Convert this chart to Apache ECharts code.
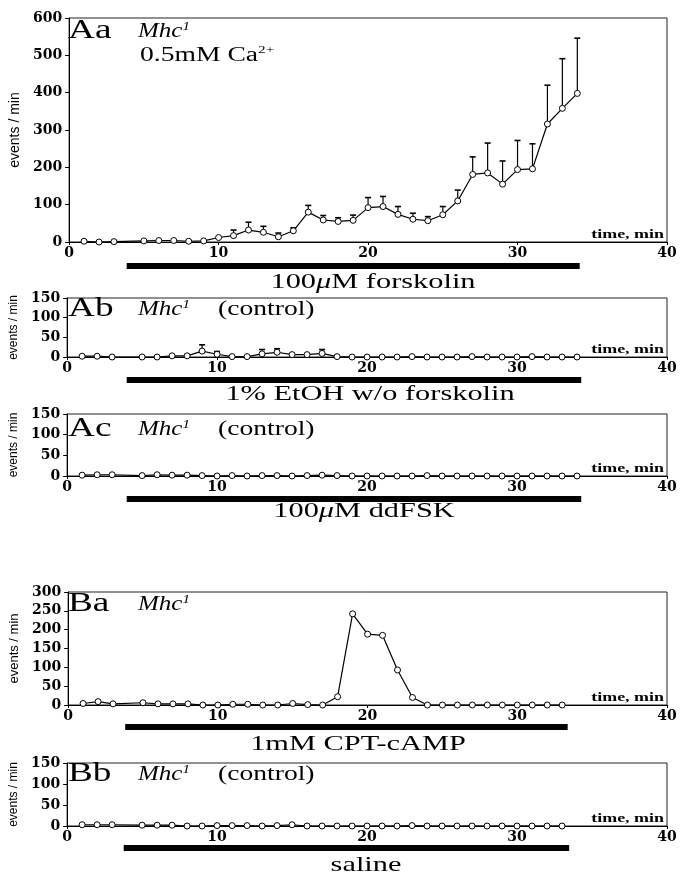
<!DOCTYPE html>
<html>
<head>
<meta charset="utf-8">
<title>events / min</title>
<script src="https://cdn.jsdelivr.net/npm/echarts@6/dist/echarts.min.js"></script>
<style>
html, body { margin: 0; padding: 0; background: #fff; }
#chart { width: 680px; height: 874px; }
</style>
</head>
<body>
<div id="chart"></div>
<script>
// sample minutes (minute 4 = solution change, not recorded)
const minutesA = [1, 2, 3, 5, 6, 7, 8, 9, 10, 11, 12, 13, 14, 15, 16, 17, 18, 19, 20, 21, 22, 23, 24, 25, 26, 27, 28, 29, 30, 31, 32, 33, 34]
const minutesB = [1, 2, 3, 5, 6, 7, 8, 9, 10, 11, 12, 13, 14, 15, 16, 17, 18, 19, 20, 21, 22, 23, 24, 25, 26, 27, 28, 29, 30, 31, 32, 33]

// Aa  100uM forskolin
const aaMean = [2, 0, 1, 3, 4, 4, 2, 3, 12, 17, 32, 26, 14, 30, 80, 59, 55, 58, 92, 95, 74, 61, 57, 73, 110, 181, 185, 155, 194, 196, 316, 358, 398]
const aaUpper = [null, null, null, null, null, null, null, null, null, 32, 53, 42, 24, 38, 98, 71, 65, 72, 119, 122, 95, 77, 68, 95, 139, 228, 265, 217, 272, 263, 420, 491, 546]
// Ab  1% EtOH
const abMean = [2, 2, 0, 0, 0, 3, 3, 15, 7, 1, 1, 8, 12, 6, 6, 9, 1, 0, 0, 0, 0, 1, 0, 0, 0, 1, 0, 0, 0, 1, 0, 0, 0]
const abUpper = [null, null, null, null, null, null, null, 31, 14, null, null, 19, 21, null, null, 19, null, null, null, null, null, null, null, null, null, null, null, null, null, null, null, null, null]
// Ac  ddFSK
const acMean = [2, 3, 3, 1, 3, 2, 2, 1, 0, 1, 0, 1, 1, 0, 1, 2, 1, 0, 0, 0, 0, 0, 1, 0, 0, 0, 0, 0, 0, 0, 0, 0, 0]
// Ba  CPT-cAMP
const baMean = [4, 9, 3, 6, 3, 3, 3, 0, 0, 2, 2, 0, 0, 4, 1, 0, 22, 242, 188, 185, 93, 20, 0, 0, 0, 0, 0, 0, 0, 0, 0, 0]
// Bb  saline
const bbMean = [3, 3, 3, 2, 2, 2, 0, 0, 1, 1, 1, 0, 1, 3, 0, 0, 0, 0, 0, 0, 0, 1, 0, 0, 0, 0, 0, 0, 0, 0, 0, 0]

// application periods (start, end in min)
const aaDrug = [4.1, 34.2]
const abDrug = [4.1, 34.3]
const acDrug = [4.1, 34.3]
const baDrug = [4.0, 33.4]
const bbDrug = [3.9, 33.5]

// tick labels
const xTicks = [0, 10, 20, 30, 40]
const aaYTicks = [0, 100, 200, 300, 400, 500, 600]
const smallYTicks = [0, 50, 100, 150]
const baYTicks = [0, 50, 100, 150, 200, 250, 300]

const STRETCH = 1.38 // the scan is wide, text gets stretched a bit
const serif = 'Liberation Serif'
const ink = '#000'

const panels = [
  { id: 'Aa', minutes: minutesA, mean: aaMean, upper: aaUpper, drug: aaDrug, yTicks: aaYTicks,
    top: 18, height: 224, barY: 266, nameSize: 14,
    sub: '{n|0.5mM Ca}{s|2+}', control: false, drugText: '{n|100}{g|μ}{n|M forskolin}',
    labelY: 31, drugX: 373, drugY: 282 },
  { id: 'Ab', minutes: minutesA, mean: abMean, upper: abUpper, drug: abDrug, yTicks: smallYTicks,
    top: 298, height: 59, barY: 380, nameSize: 12,
    control: true, drugText: '{n|1% EtOH w/o forskolin}', labelY: 309, drugX: 370, drugY: 394 },
  { id: 'Ac', minutes: minutesA, mean: acMean, drug: acDrug, yTicks: smallYTicks,
    top: 414, height: 62, barY: 499, nameSize: 12,
    control: true, drugText: '{n|100}{g|μ}{n|M ddFSK}', labelY: 429, drugX: 364, drugY: 511 },
  { id: 'Ba', minutes: minutesB, mean: baMean, drug: baDrug, yTicks: baYTicks,
    top: 592, height: 113, barY: 727, nameSize: 13,
    control: false, drugText: '{n|1mM CPT-cAMP}', labelY: 604, drugX: 358, drugY: 744 },
  { id: 'Bb', minutes: minutesB, mean: bbMean, drug: bbDrug, yTicks: smallYTicks,
    top: 763, height: 63, barY: 848, nameSize: 12,
    control: true, drugText: '{n|saline}', labelY: 774, drugX: 366, drugY: 865 }
]

const n = panels.length
const grid = []
const xAxis = []
const yAxis = []
const series = []
const graphic = []

panels.forEach((p, i) => {
  // plot box
  grid.push({ left: 65, width: 602, top: p.top, height: p.height, show: true, borderColor: '#222', borderWidth: 1 })
  xAxis.push({
    gridIndex: i, type: 'value', min: xTicks[0], max: xTicks[xTicks.length - 1], interval: xTicks[1] - xTicks[0],
    axisLine: { lineStyle: { color: ink, width: 1 } },
    axisTick: { show: true, length: 3, lineStyle: { color: ink } },
    axisLabel: { color: ink, fontFamily: 'DejaVu Serif', fontWeight: 'bold', fontSize: 14, margin: 4 },
    splitLine: { show: false }
  })
  yAxis.push({
    gridIndex: i, type: 'value', min: p.yTicks[0], max: p.yTicks[p.yTicks.length - 1], interval: p.yTicks[1] - p.yTicks[0],
    name: 'events / min', nameLocation: 'middle', nameGap: 42, nameRotate: 90,
    nameTextStyle: { color: ink, fontFamily: 'Liberation Sans', fontSize: p.nameSize },
    axisLine: { show: true, lineStyle: { color: ink, width: 1 } },
    axisTick: { show: true, length: 4, lineStyle: { color: ink } },
    axisLabel: { color: ink, fontFamily: 'DejaVu Serif', fontWeight: 'bold', fontSize: 14, margin: 7 },
    splitLine: { show: false }
  })

  // error bars (upper only) drawn under the points
  if (p.upper) {
    const errData = []
    p.minutes.forEach((m, k) => {
      if (p.upper[k] != null) errData.push([m, p.mean[k], p.upper[k]])
    })
    series.push({
      type: 'custom', xAxisIndex: i, yAxisIndex: i, z: 2, silent: true,
      encode: { x: 0, y: [1, 2] },
      data: errData,
      renderItem: (params, api) => {
        const lo = api.coord([api.value(0), api.value(1)])
        const hi = api.coord([api.value(0), api.value(2)])
        return {
          type: 'group',
          children: [
            { type: 'line', shape: { x1: lo[0], y1: lo[1] - 3, x2: hi[0], y2: hi[1] }, style: { stroke: ink, lineWidth: 1.2 } },
            { type: 'line', shape: { x1: hi[0] - 3, y1: hi[1], x2: hi[0] + 3, y2: hi[1] }, style: { stroke: ink, lineWidth: 1.6 } }
          ]
        }
      }
    })
  }

  series.push({
    type: 'line', xAxisIndex: i, yAxisIndex: i, z: 3, silent: true,
    data: p.minutes.map((m, k) => [m, p.mean[k]]),
    symbol: 'circle', symbolSize: 6, showSymbol: true,
    itemStyle: { color: '#fff', borderColor: ink, borderWidth: 1 },
    lineStyle: { color: ink, width: 1.2 },
    animation: false
  })

  // panel label + genotype
  graphic.push({
    type: 'text', x: 68, y: p.labelY, scaleX: STRETCH,
    style: { text: p.id, font: '27px "' + serif + '"', fill: ink, textAlign: 'left', textVerticalAlign: 'middle' }
  })
  graphic.push({
    type: 'text', x: 138, y: p.labelY + 1, scaleX: 1.25,
    style: {
      text: '{i|Mhc}{s|1}', textAlign: 'left', textVerticalAlign: 'middle',
      rich: {
        i: { fontFamily: serif, fontStyle: 'italic', fontSize: 20, lineHeight: 22, fill: ink },
        s: { fontFamily: serif, fontStyle: 'italic', fontSize: 12, lineHeight: 12, verticalAlign: 'top', fill: ink }
      }
    }
  })
  if (p.control) {
    graphic.push({
      type: 'text', x: 218, y: p.labelY + 1, scaleX: STRETCH,
      style: { text: '(control)', font: '20px "' + serif + '"', fill: ink, textAlign: 'left', textVerticalAlign: 'middle' }
    })
  }
  if (p.sub) {
    graphic.push({
      type: 'text', x: 140, y: p.labelY + 25, scaleX: STRETCH,
      style: {
        text: p.sub, textAlign: 'left', textVerticalAlign: 'middle',
        rich: {
          n: { fontFamily: serif, fontSize: 20, lineHeight: 22, fill: ink },
          s: { fontFamily: serif, fontSize: 11, lineHeight: 11, verticalAlign: 'top', fill: ink }
        }
      }
    })
  }
  // time label inside the box
  graphic.push({
    type: 'text', x: 664, y: p.top + p.height - 1, scaleX: STRETCH,
    style: { text: 'time, min', font: 'bold 13px "' + serif + '"', fill: ink, textAlign: 'right', textVerticalAlign: 'bottom' }
  })
  // drug label
  graphic.push({
    type: 'text', x: p.drugX, y: p.drugY, scaleX: STRETCH,
    style: {
      text: p.drugText, textAlign: 'center', textVerticalAlign: 'middle',
      rich: {
        n: { fontFamily: serif, fontSize: 22, fill: ink },
        g: { fontFamily: serif, fontStyle: 'italic', fontSize: 22, fill: ink }
      }
    }
  })
})

// application bars under each panel, own grid sharing the 0-40 min scale
panels.forEach((p, i) => {
  const gi = n + i
  grid.push({ left: 65, width: 602, top: p.barY - 5, height: 10 })
  xAxis.push({ gridIndex: gi, type: 'value', min: xTicks[0], max: xTicks[xTicks.length - 1], show: false })
  yAxis.push({ gridIndex: gi, type: 'value', min: -1, max: 1, show: false })
  series.push({
    type: 'line', xAxisIndex: gi, yAxisIndex: gi, silent: true, symbol: 'none',
    data: [[p.drug[0], 0], [p.drug[1], 0]],
    lineStyle: { color: ink, width: 6, cap: 'butt' },
    animation: false
  })
})

const myChart = echarts.init(document.getElementById('chart'), null, { renderer: 'canvas' })
myChart.setOption({
  backgroundColor: '#fff',
  animation: false,
  grid,
  xAxis,
  yAxis,
  series,
  graphic
})
</script>
</body>
</html>
